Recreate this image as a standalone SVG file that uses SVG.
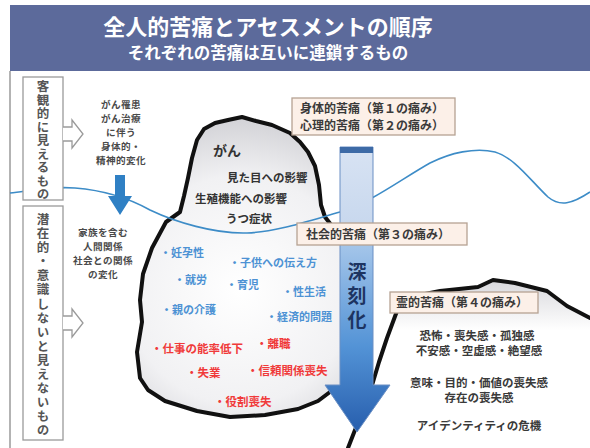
<svg xmlns="http://www.w3.org/2000/svg" width="590" height="448" viewBox="0 0 590 448">
  <style>
    text { font-family: "Noto Sans CJK JP", "Noto Sans", sans-serif; }
    .title { fill: #ffffff; font-weight: 700; text-anchor: middle; }
    .side { fill: #555; font-size: 12.5px; font-weight: 700; writing-mode: vertical-rl; letter-spacing: 1px; }
    .note { fill: #4a4a4a; font-size: 9.6px; font-weight: 700; text-anchor: middle; letter-spacing: 0.4px; }
    .ice { fill: #333; font-size: 11.5px; font-weight: 700; }
    .blue { fill: #4d92d4; font-size: 11px; font-weight: 700; }
    .red { fill: #f03a3a; font-size: 11.5px; font-weight: 700; }
    .spirit { fill: #3a3a3a; font-size: 11.5px; font-weight: 700; text-anchor: middle; }
    .lbl rect { fill: #fcf0e8; stroke: #b6a293; stroke-width: 1.3; }
    .lbl text { fill: #3a3a3a; font-size: 12px; font-weight: 700; }
    .box { fill: #ffffff; stroke: #9a9a9a; stroke-width: 1.3; }
    .outline { fill: none; stroke: #111; stroke-width: 4; stroke-linejoin: round; stroke-linecap: round; }
  </style>
  <defs>
    <radialGradient id="iceFill" cx="240" cy="290" r="190" gradientUnits="userSpaceOnUse">
      <stop offset="0" stop-color="#ffffff"/>
      <stop offset="0.6" stop-color="#f1f1f3"/>
      <stop offset="1" stop-color="#c9c9ce"/>
    </radialGradient>
    <linearGradient id="spiritFill" x1="0" y1="0" x2="0" y2="1">
      <stop offset="0" stop-color="#d8d8dc"/>
      <stop offset="0.3" stop-color="#ffffff"/>
      <stop offset="1" stop-color="#ffffff"/>
    </linearGradient>
    <linearGradient id="deepen" x1="0" y1="147" x2="0" y2="432" gradientUnits="userSpaceOnUse">
      <stop offset="0" stop-color="#d8e3f3"/>
      <stop offset="0.27" stop-color="#c8d8ee"/>
      <stop offset="0.34" stop-color="#a5c6ea"/>
      <stop offset="0.7" stop-color="#5393d6"/>
      <stop offset="1" stop-color="#275ead"/>
    </linearGradient>
  </defs>

  <rect width="590" height="448" fill="#ffffff"/>

  <!-- header band -->
  <g id="header">
    <rect x="10" y="5" width="580" height="66" fill="#5c6a9b"/>
    <text class="title" x="268" y="35" font-size="22">全人的苦痛とアセスメントの順序</text>
    <text class="title" x="268" y="59" font-size="16.5">それぞれの苦痛は互いに連鎖するもの</text>
  </g>
  <line x1="10" y1="71" x2="10" y2="448" stroke="#9a9a9a" stroke-width="1.5"/>

  <!-- spiritual iceberg (right) -->
  <g id="spiritual-ice">
    <path d="M348,448 L355,430 L367,402 L379,362 L387,338 L397,311 L410,297 L440,291 L478,287 L493,280 L515,283 L547,291 L567,306 L590,318 L590,448 Z" fill="url(#spiritFill)"/>
    <path class="outline" d="M348,448 L355,430 L367,402 L379,362 L387,338 L397,311 L410,297 L440,291 L478,287 L493,280 L515,283 L547,291 L567,306 L590,318"/>
  </g>

  <!-- main iceberg -->
  <g id="iceberg">
    <path class="outline" d="M180,212 L184,196 L188,178 L192,158 L197,140 L204,129 L215,123 L228,120 L242,117 L256,121 L272,125 L290,133 L300,142 L308,152 L315,166 L319,185 L321,205 L325,217 L332,226 L345,236 L355,250 L355,385 L330,392 L318,401 L298,409 L265,415 L230,417 L197,411 L165,401 L148,390 L140,378 L137,352 L142,322 L140,300 L143,274 L152,248 L166,222 Z" style="fill:url(#iceFill)"/>
  </g>

  <!-- waterline and the blue down arrow -->
  <g id="connectors">
    <path d="M10,193 C35,190 55,186 75,188 C100,190 125,196 150,210 C175,222 215,234 247,233 C275,232 305,222 340,212 C370,203 400,180 430,163 C450,153 475,147 495,152 C515,158 530,180 548,197 C560,207 572,204 590,192" fill="none" stroke="#3d8cc7" stroke-width="1.6"/>
    <path d="M115,175 H125 V196 H132 L120,215 L108,196 H115 Z" fill="#2f80c4"/>
  </g>

  <!-- deepening arrow -->
  <g id="deepen-arrow">
    <path d="M340,147 H373 V385 H390 L357,432 L325,385 H340 Z" fill="url(#deepen)" stroke="#6a8fc4" stroke-width="1"/>
    <rect x="340" y="147" width="33" height="6" fill="#3d6aa6"/>
    <text x="357" y="262" fill="#1d3461" font-size="19" font-weight="700" style="writing-mode: vertical-rl; letter-spacing: 5px;">深刻化</text>
  </g>

  <!-- left side boxes -->
  <g id="visible-box">
    <rect class="box" x="23" y="77" width="40" height="123"/>
    <path class="box" d="M63,127 H72 V120 L83,134 L72,148 V141 H63"/>
    <text class="side" x="43" y="80">客観的に見えるもの</text>
  </g>
  <g id="latent-box">
    <rect class="box" x="23" y="206" width="40" height="234"/>
    <path class="box" d="M63,316 H72 V309 L83,323 L72,337 V330 H63"/>
    <text class="side" x="43" y="213" style="letter-spacing: 1.6px;">潜在的・意識しないと見えないもの</text>
  </g>

  <!-- notes beside the boxes -->
  <g id="note-physical">
    <text class="note" x="121" y="108">がん罹患<tspan x="121" dy="14">がん治療</tspan><tspan x="121" dy="14">に伴う</tspan><tspan x="121" dy="14">身体的・</tspan><tspan x="121" dy="14">精神的変化</tspan></text>
  </g>
  <g id="note-social">
    <text class="note" x="103" y="236">家族を含む<tspan x="103" dy="14">人間関係</tspan><tspan x="103" dy="14">社会との関係</tspan><tspan x="103" dy="14">の変化</tspan></text>
  </g>

  <!-- iceberg contents -->
  <g id="ice-visible">
    <text x="213" y="156" fill="#333" font-size="14" font-weight="700">がん</text>
    <text class="ice" x="227" y="182">見た目への影響</text>
    <text class="ice" x="195" y="203">生殖機能への影響</text>
    <text class="ice" x="226" y="223">うつ症状</text>
  </g>
  <g id="ice-social-blue">
    <text class="blue" x="160" y="257">・妊孕性</text>
    <text class="blue" x="229" y="267">・子供への伝え方</text>
    <text class="blue" x="174" y="284">・就労</text>
    <text class="blue" x="226" y="289">・育児</text>
    <text class="blue" x="282" y="296">・性生活</text>
    <text class="blue" x="161" y="314">・親の介護</text>
    <text class="blue" x="266" y="321">・経済的問題</text>
  </g>
  <g id="ice-social-red">
    <text class="red" x="151" y="353">・仕事の能率低下</text>
    <text class="red" x="256" y="348">・離職</text>
    <text class="red" x="186" y="377">・失業</text>
    <text class="red" x="247" y="375">・信頼関係喪失</text>
    <text class="red" x="214" y="406">・役割喪失</text>
  </g>

  <!-- pain labels -->
  <g id="label-physical" class="lbl">
    <rect x="292" y="98" width="163" height="37"/>
    <text x="300" y="113">身体的苦痛（第１の痛み）<tspan x="300" dy="17">心理的苦痛（第２の痛み）</tspan></text>
  </g>
  <g id="label-social" class="lbl">
    <rect x="297" y="223" width="170" height="22"/>
    <text x="306" y="239">社会的苦痛（第３の痛み）</text>
  </g>
  <g id="label-spiritual" class="lbl">
    <rect x="390" y="292" width="148" height="21"/>
    <text x="396" y="307">霊的苦痛（第４の痛み）</text>
  </g>

  <!-- spiritual contents -->
  <g id="spirit-text">
    <text class="spirit" x="477" y="340">恐怖・喪失感・孤独感<tspan x="479" dy="15">不安感・空虚感・絶望感</tspan></text>
    <text class="spirit" x="479" y="387">意味・目的・価値の喪失感<tspan x="479" dy="15">存在の喪失感</tspan></text>
    <text class="spirit" x="479" y="430">アイデンティティの危機</text>
  </g>
</svg>
